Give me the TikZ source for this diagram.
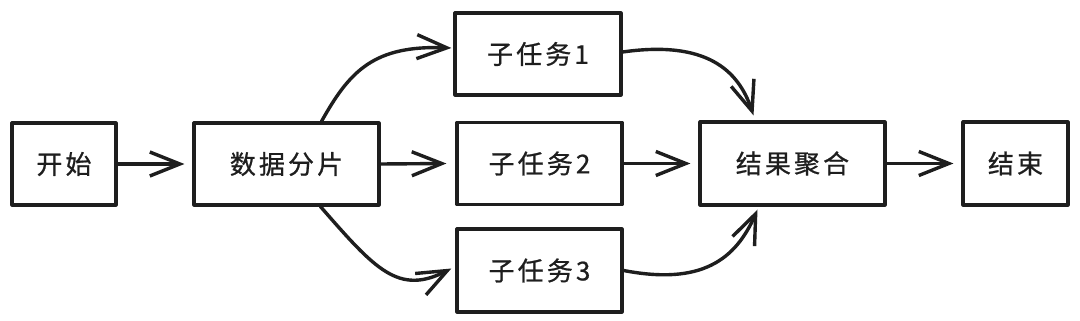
\documentclass[tikz,border=0pt]{standalone}
\usepackage{fontspec}
\newfontfamily\cjk[LetterSpace=12,FakeBold=0.8]{Noto Sans CJK SC}
\usetikzlibrary{arrows.meta,calc}
\definecolor{ink}{HTML}{1E1E1E}
\begin{document}
\begin{tikzpicture}[x=1pt,y=-1pt,
  box/.style={draw=ink, line width=3.2pt, line join=round, minimum height=82pt, inner sep=0pt,
    font=\cjk\fontsize{26}{30}\selectfont, text=ink},
  conn/.style={draw=ink, line width=3.4pt, line cap=round,
    -{Straight Barb[length=30pt,width=24pt]}},
]
\useasboundingbox[fill=white] (0,0) rectangle (1080,321);

\node[box,minimum width=104pt] (start) at (64,164) {开始};
\node[box,minimum width=185pt] (split) at (286.5,164) {数据分片};
\node[box,minimum width=166pt] (t1) at (538,54) {子任务1};
\node[box,minimum width=165pt] (t2) at (539.5,163.5) {子任务2};
\node[box,minimum width=165pt,minimum height=83pt] (t3) at (539.5,270.5) {子任务3};
\node[box,minimum width=185pt,minimum height=83pt] (agg) at (792.5,163.5) {结果聚合};
\node[box,minimum width=105pt,minimum height=83pt] (end) at (1015.5,163.5) {结束};

\draw[conn,shorten >=8pt] (start) -- (split);
\draw[conn] (split.east) -- ([xshift=-9pt]t2.west);
\draw[conn] (t2.east) -- ([xshift=-8pt]agg.west);
\draw[conn] (agg.east) -- ([xshift=-8pt]end.west);

\draw[conn] ([xshift=35pt]split.north) .. controls +(28,-50) and +(-78,-3) .. ([xshift=-2pt,yshift=6pt]t1.west);
\draw[conn] ([yshift=2pt]t1.east) .. controls +(84,-12) and +(-15,-45) .. ([xshift=-39pt,yshift=5pt]agg.north);
\draw[conn] ([xshift=34pt]split.south) .. controls +(55,63) and +(-53,27) .. ([xshift=-4pt,yshift=2pt]t3.west);
\draw[conn] (t3.east) .. controls +(78,15) and +(-22,50) .. ([xshift=-35pt,yshift=-3pt]agg.south);
\end{tikzpicture}
\end{document}
